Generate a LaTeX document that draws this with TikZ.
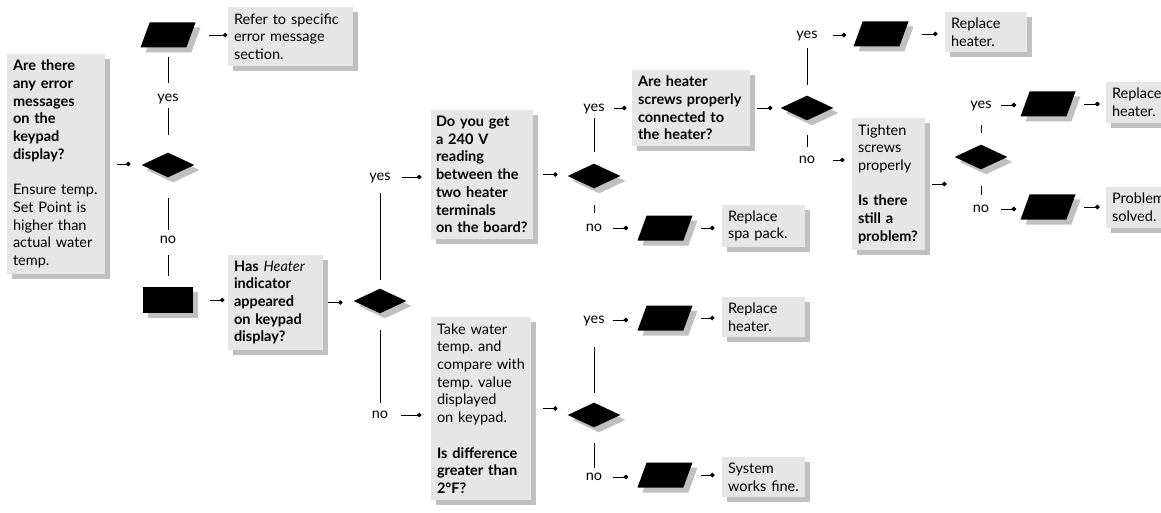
\documentclass[tikz,border=0pt]{standalone}
\usepackage{fontspec}
\setmainfont{Lato}
\frenchspacing
\usetikzlibrary{shapes.geometric,shadows,arrows.meta}

\definecolor{boxgray}{RGB}{230,230,231}
\definecolor{shadegray}{RGB}{192,192,194}

\begin{document}
\begin{tikzpicture}[x=1pt, y=-1pt, line width=0.9pt,
    font=\fontsize{14.5}{17.7}\selectfont,
    boxshadow/.style={drop shadow={shadow xshift=5pt, shadow yshift=-5pt, fill=shadegray, opacity=1}},
    textbox/.style={boxshadow, fill=boxgray, align=left, inner xsep=6pt, inner ysep=6pt, text width=#1},
    decide/.style={diamond, fill=black, boxshadow, minimum width=53pt, minimum height=25pt, inner sep=0pt},
    outcome/.style={trapezium, trapezium left angle=76, trapezium right angle=104, trapezium stretches=true,
        minimum width=55pt, minimum height=25pt, inner sep=1pt, fill=black, boxshadow},
    stopbox/.style={rectangle, fill=black, boxshadow, minimum width=50pt, minimum height=26pt, inner sep=0pt},
    answer/.style={inner sep=0pt, text height=7.5pt, text depth=0pt},
    link/.style 2 args={-{Circle[length=4.5pt]}, shorten <=#1, shorten >=#2},
    stem/.style 2 args={shorten <=#1, shorten >=#2}]
        \useasboundingbox (0,0) rectangle (1161,513);
        \clip (0,0) rectangle (1161,513);

        % First question and its two branches
        \node[textbox=86pt] (errq) at (56,164) {\bfseries Are there\\any error\\messages\\on the\\keypad\\display?\\[17.7pt]\mdseries Ensure temp.\\Set Point is\\higher than\\actual water\\temp.};
        \node[outcome] (errout) at (168,35) {};
        \node[textbox=113pt] (refer) at (290.5,36.5) {Refer to specific\\error message\\section.};
        \node[answer] (yesA) at (168,98) {yes};
        \node[decide] (errdia) at (168,165) {};
        \node[answer] (noA) at (168,240) {no};
        \node[stopbox] (noerr) at (168,300) {};

        % Heater indicator
        \node[textbox=83pt] (heaterq) at (275.5,302.5) {\bfseries Has {\mdseries\itshape Heater}\\indicator\\appeared\\on keypad\\display?};
        \node[decide] (heaterdia) at (380,301) {};
        \node[answer] (yesB) at (380,177) {yes};
        \node[answer] (noB) at (380,415) {no};

        % 240 V branch
        \node[textbox=92pt, inner xsep=5pt] (voltq) at (482,174.5) {\bfseries Do you get\\a 240 V\\reading\\between the\\two heater\\terminals\\\mbox{on the board?}};
        \node[decide] (voltdia) at (594,176) {};
        \node[answer] (yesC) at (594,108) {yes};
        \node[answer] (noC) at (594,228) {no};
        \node[outcome] (spaout) at (665,228) {};
        \node[textbox=71pt] (spa) at (763.5,226) {Replace\\spa pack.};

        % Water temperature branch
        \node[textbox=88pt] (waterq) at (481,408.5) {Take water\\temp. and\\compare with\\temp. value\\displayed\\on keypad.\\[17.7pt]\bfseries Is difference\\greater than\\2°F?};
        \node[decide] (waterdia) at (594,415) {};
        \node[answer] (yesD) at (594,320) {yes};
        \node[answer] (noD) at (594,477) {no};
        \node[outcome] (heatout2) at (665,318) {};
        \node[textbox=71pt] (repl2) at (763.5,317) {Replace\\heater.};
        \node[outcome] (fineout) at (665,475) {};
        \node[textbox=71pt] (fine) at (763.5,477) {System\\works fine.};

        % Heater screws
        \node[textbox=106pt] (screwq) at (691,108) {\bfseries Are heater\\screws properly\\connected to\\the heater?};
        \node[decide] (screwdia) at (807,108) {};
        \node[answer] (yesE) at (807,35) {yes};
        \node[answer] (noE) at (807,160) {no};
        \node[outcome] (heatout1) at (881,34) {};
        \node[textbox=70pt] (repl1) at (986,32) {Replace\\heater.};
        \node[textbox=61pt] (tightq) at (888.5,184) {Tighten\\screws\\properly\\[17.7pt]\bfseries Is there\\still a\\problem?};
        \node[decide] (tightdia) at (981,157) {};
        \node[answer] (yesF) at (981,105) {yes};
        \node[answer] (noF) at (981,209) {no};
        \node[outcome] (heatout3) at (1048,104) {};
        \node[textbox=72pt] (repl3) at (1148,102.5) {Replace\\heater.};
        \node[outcome] (solvedout) at (1048,207) {};
        \node[textbox=72pt] (solved) at (1148,207.5) {Problem\\solved.};

        % Stems between shapes and yes/no
        \draw[stem={22pt}{15pt}] (errout.center) -- (yesA.center);
        \draw[stem={10pt}{30pt}] (yesA.center) -- (errdia.center);
        \draw[stem={33pt}{10pt}] (errdia.center) -- (noA.center);
        \draw[stem={15pt}{24pt}] (noA.center) -- (noerr.center);
        \draw[stem={16pt}{21pt}] (yesB.center) -- (heaterdia.center);
        \draw[stem={29pt}{12pt}] (heaterdia.center) -- (noB.center);
        \draw[stem={10pt}{24pt}] (yesC.center) -- (voltdia.center);
        \draw[stem={29pt}{15pt}] (voltdia.center) -- (noC.center);
        \draw[stem={27pt}{22pt}] (yesD.center) -- (waterdia.center);
        \draw[stem={28pt}{9pt}] (waterdia.center) -- (noD.center);
        \draw[stem={13pt}{23pt}] (yesE.center) -- (screwdia.center);
        \draw[stem={27pt}{13pt}] (screwdia.center) -- (noE.center);
        \draw[stem={20pt}{24pt}] (yesF.center) -- (tightdia.center);
        \draw[stem={29pt}{14pt}] (tightdia.center) -- (noF.center);

        % Dot connectors
        \draw[link={17.5pt}{0pt}] (errout.east) -- (errout.east -| refer.west);
        \draw[link={12pt}{10.5pt}] (errq.east) -- (errq.east -| errdia.west);
        \draw[link={17pt}{3pt}] (noerr.east) -- (noerr.east -| heaterq.west);
        \draw[link={5pt}{10.5pt}] (heaterq.east) -- (heaterq.east -| heaterdia.west);
        \draw[link={10.5pt}{9pt}] (yesB.east) -- (yesB.east -| voltq.west);
        \draw[link={10pt}{9.5pt}] (voltq.east) -- (voltq.east -| voltdia.west);
        \draw[link={8.5pt}{5pt}] (yesC.east) -- (yesC.east -| screwq.west);
        \draw[link={10pt}{13.5pt}] (noC.east) -- (noC.east -| spaout.west);
        \draw[link={12.5pt}{7pt}] (spaout.east) -- (spaout.east -| spa.west);
        \draw[link={12pt}{9pt}] (noB.east) -- (noB.east -| waterq.west);
        \draw[link={12pt}{9.5pt}] (waterq.east) -- (waterq.east -| waterdia.west);
        \draw[link={7.5pt}{13.5pt}] (yesD.east) -- (yesD.east -| heatout2.west);
        \draw[link={12.5pt}{7pt}] (heatout2.east) -- (heatout2.east -| repl2.west);
        \draw[link={10pt}{13.5pt}] (noD.east) -- (noD.east -| fineout.west);
        \draw[link={12.5pt}{7pt}] (fineout.east) -- (fineout.east -| fine.west);
        \draw[link={7pt}{7.5pt}] (screwq.east) -- (screwq.east -| screwdia.west);
        \draw[link={14.5pt}{11.5pt}] (yesE.east) -- (yesE.east -| heatout1.west);
        \draw[link={17.5pt}{7pt}] (heatout1.east) -- (heatout1.east -| repl1.west);
        \draw[link={17pt}{7pt}] (noE.east) -- (noE.east -| tightq.west);
        \draw[link={7pt}{7.5pt}] (tightq.east) -- (tightq.east -| tightdia.west);
        \draw[link={8.5pt}{8.5pt}] (yesF.east) -- (yesF.east -| heatout3.west);
        \draw[link={12.5pt}{6pt}] (heatout3.east) -- (heatout3.east -| repl3.west);
        \draw[link={11pt}{8.5pt}] (noF.east) -- (noF.east -| solvedout.west);
        \draw[link={12.5pt}{6pt}] (solvedout.east) -- (solvedout.east -| solved.west);
      \end{tikzpicture}
\end{document}
